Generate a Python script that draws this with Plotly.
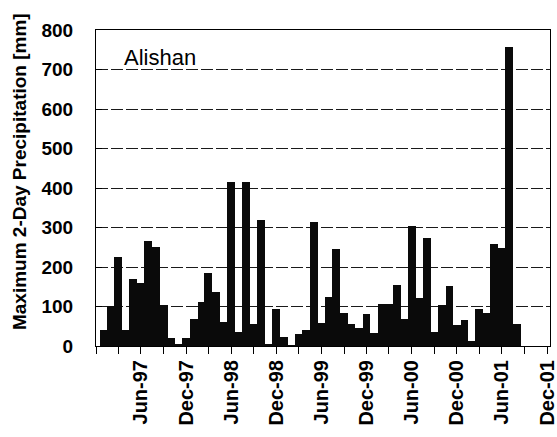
import plotly.graph_objects as go
import pandas as pd

months = pd.date_range("1997-01-01", "2001-08-01", freq="MS").strftime("%Y-%m-%d").tolist()
precip = [40, 102, 225, 40, 170, 160, 265, 250, 104, 20, 5, 20,
          68, 112, 185, 137, 60, 415, 35, 415, 56, 320, 5, 93,
          22, 2, 30, 40, 313, 58, 125, 245, 83, 56, 45, 80,
          33, 106, 106, 154, 68, 303, 121, 273, 35, 104, 152, 53,
          66, 13, 94, 84, 258, 248, 757, 56]

tick_dates = pd.date_range("1996-12-01", "2001-12-01", freq="3MS").strftime("%Y-%m-%d").tolist()
tick_labels = ["", "", "Jun-97", "", "Dec-97", "", "Jun-98", "", "Dec-98", "", "Jun-99", "",
               "Dec-99", "", "Jun-00", "", "Dec-00", "", "Jun-01", "", "Dec-01"]
y_ticks = [0, 100, 200, 300, 400, 500, 600, 700, 800]
station = "Alishan"
y_title = "Maximum 2-Day Precipitation [mm]"

fig = go.Figure()
fig.add_trace(go.Bar(
    x=months, y=precip,
    width=31.6 * 86400000,
    marker=dict(color="#0a0a0a", line=dict(width=0)),
))

fig.update_layout(
    width=557, height=437,
    margin=dict(l=96, r=7, t=30, b=91, autoexpand=False),
    paper_bgcolor="white", plot_bgcolor="white",
    showlegend=False,
    bargap=0,
    font=dict(family="Liberation Sans, Arial, sans-serif", color="black"),
    annotations=[
        dict(text=station, xref="paper", yref="paper", x=0.057, y=0.96,
             xanchor="left", yanchor="top", showarrow=False,
             font=dict(size=22, color="black")),
        dict(text=y_title, xref="paper", yref="paper", x=-0.167, y=0.551,
             xanchor="center", yanchor="middle", showarrow=False, textangle=-90,
             font=dict(size=19, weight="bold", color="black")),
    ],
)
fig.update_xaxes(
    type="date",
    range=["1996-12-01", "2001-12-13"],
    tickmode="array", tickvals=tick_dates, ticktext=tick_labels,
    tickangle=-90,
    ticks="outside", ticklen=7, tickcolor="black", tickwidth=1,
    showline=True, linecolor="black", linewidth=1, mirror=True,
    showgrid=False,
    tickfont=dict(size=20, weight="bold"),
    ticklabelstandoff=-2,
    ticklabeloverflow="allow",
    automargin=False,
)
fig.update_yaxes(
    range=[0, 800],
    tickmode="array", tickvals=y_ticks,
    ticks="inside", ticklen=6, tickcolor="black",
    showline=True, linecolor="black", linewidth=1, mirror=True,
    showgrid=True, gridcolor="#1a1a1a", gridwidth=1, griddash="12px,3px",
    tickfont=dict(size=19, weight="bold"),
    ticklabelstandoff=18,
    zeroline=False,
    automargin=False,
)

fig.write_html("out.html",
               config={"displayModeBar": False},
               post_script="document.body.style.margin='0';document.body.style.overflow='hidden';")
